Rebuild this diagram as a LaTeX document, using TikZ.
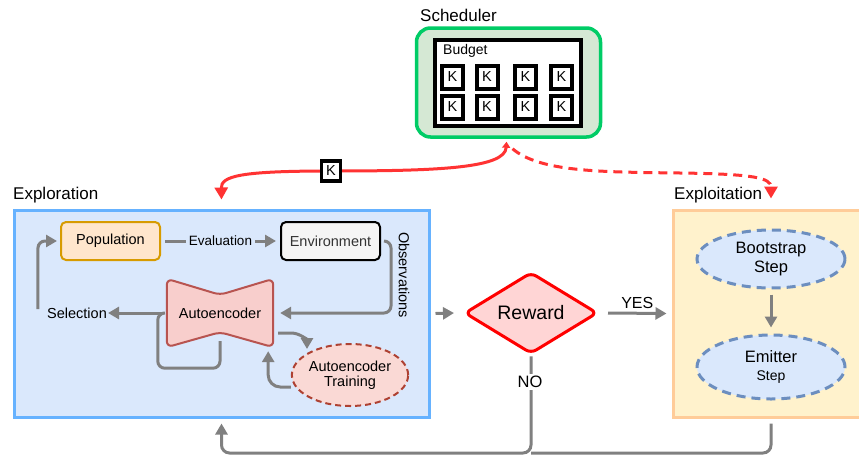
\documentclass[tikz,border=0pt]{standalone}
\usepackage{fontspec}
\setmainfont{Liberation Sans}
\usetikzlibrary{arrows.meta,shapes.geometric,calc}

\definecolor{explfill}{HTML}{DAE8FC}
\definecolor{explline}{HTML}{66B2FF}
\definecolor{exptfill}{HTML}{FFF2CC}
\definecolor{exptline}{HTML}{FFCC99}
\definecolor{schedfill}{HTML}{D5E8D4}
\definecolor{schedline}{HTML}{00CC66}
\definecolor{popfill}{HTML}{FFE6CC}
\definecolor{popline}{HTML}{D79B00}
\definecolor{envfill}{HTML}{F5F5F5}
\definecolor{envtext}{HTML}{333333}
\definecolor{aefill}{HTML}{F8CECC}
\definecolor{aeline}{HTML}{B85450}
\definecolor{trainfill}{HTML}{FAD9D5}
\definecolor{trainline}{HTML}{AE4132}
\definecolor{rewfill}{HTML}{FFD5D5}
\definecolor{rewline}{HTML}{FF0000}
\definecolor{stepline}{HTML}{6C8EBF}
\definecolor{flowgray}{HTML}{808080}
\definecolor{budgetred}{HTML}{FF3333}

\newcommand{\fs}[1]{\fontsize{#1}{#1}\selectfont}

\tikzset{
  panel/.style={draw, line width=3pt, inner sep=0pt},
  panellabel/.style={font=\fs{17}, anchor=west, inner sep=0pt},
  box/.style={draw, line width=2pt, rounded corners=5pt, minimum width=99pt,
    minimum height=38pt, inner sep=0pt, font=\fs{14.5}},
  stepnode/.style={ellipse, draw=stepline, fill=explfill, line width=3pt,
    dash pattern=on 9pt off 6pt, minimum width=148pt, minimum height=58pt,
    inner sep=0pt, align=center, font=\fs{16.5}},
  kbox/.style={draw, line width=4pt, fill=white, minimum width=21pt,
    minimum height=23pt, inner sep=0pt, font=\fs{14.5}},
  gline/.style={draw=flowgray, line width=3pt},
  garrow/.style={gline, -{Triangle[length=11pt,width=12pt]}},
  redline/.style={draw=budgetred, line width=3pt},
  flowtext/.style={font=\fs{13.5}, inner sep=1pt},
}

\begin{document}
\begin{tikzpicture}[x=1pt,y=-1pt]
\useasboundingbox (0,0) rectangle (859,458);

% ---------- panels ----------
\node[panel, draw=explline, fill=explfill, minimum width=415pt, minimum height=207pt]
  (expl) at (221.5,313.5) {};
\node[panel, draw=exptline, fill=exptfill, minimum width=196pt, minimum height=207pt]
  (expt) at (771,313.5) {};
\node[panellabel] (expllab) at (13,195) {Exploration};
\node[panellabel] (exptlab) at (674,195) {Exploitation};

% ---------- scheduler with its budget of K tokens ----------
\node[draw=schedline, fill=schedfill, line width=3.5pt, rounded corners=14pt,
  minimum width=184pt, minimum height=109pt, inner sep=0pt] (sched) at (508.5,82.5) {};
\node[panellabel] (schedlab) at (420,15) {Scheduler};
\node[draw, line width=4pt, fill=white, minimum width=146pt, minimum height=86pt,
  inner sep=0pt] (budget) at (508,83) {};
\node[anchor=west, inner sep=0pt, font=\fs{14}] (budgetlab) at (443,51) {Budget};
\foreach \r/\yy in {1/77,2/107}{
  \foreach \c/\xx in {1/452.5,2/487,3/525.5,4/561.5}{
    \node[kbox] (k\r\c) at (\xx,\yy) {K};
  }
}

% ---------- exploration loop ----------
\node[box, draw=popline, fill=popfill] (pop) at (110.5,241) {Population};
\node[box, draw=black, fill=envfill, text=envtext] (env) at (330.5,241) {Environment};

% autoencoder drawn as a bow-tie around its node
\node[minimum width=106pt, minimum height=68pt, inner sep=0pt] (ae) at (220,313) {};
\draw[draw=aeline, fill=aefill, line width=2pt, rounded corners=6pt]
  (ae.north west) -- ([yshift=-16pt]ae.north) -- (ae.north east)
  -- (ae.south east) -- ([yshift=15pt]ae.south) -- (ae.south west) -- cycle;
\node[font=\fs{14.5}] at (ae.center) {Autoencoder};

\node[ellipse, draw=trainline, fill=trainfill, line width=2pt,
  dash pattern=on 6pt off 4pt, minimum width=114pt, minimum height=62pt,
  inner sep=0pt, align=center, font=\fs{14.5}] (train) at (350,375)
  {Autoencoder\\[1pt]Training};

\node[font=\fs{14.5}, inner sep=1pt] (sel) at (77,313) {Selection};
\node[font=\fs{14.5}, rotate=-90, inner sep=0pt] (obs) at (404,275) {Observations};

\draw[garrow] ([xshift=4pt]pop.east) --
  node[flowtext, fill=explfill, inner xsep=3pt] (evallab) {Evaluation}
  ([xshift=-4pt]env.west);
\draw[garrow, rounded corners=7pt] ([xshift=3pt]env.east) -- ([xshift=10pt]env.east)
  |- ([xshift=7pt]ae.east);
\draw[garrow] ([xshift=-4pt]ae.west) -- (sel.east);
\draw[gline, rounded corners=7pt] ([yshift=6pt]ae.south) -- ([yshift=-21pt]ae.south)
  -| ([xshift=-9pt]ae.west) -- ([xshift=-4pt]ae.west);
\draw[garrow, rounded corners=7pt] ([xshift=-8pt,yshift=4pt]sel.west)
  |- ([xshift=-3pt]pop.west);
\draw[garrow] ([xshift=5pt,yshift=-20pt]ae.east) -- ([xshift=18pt,yshift=-20pt]ae.east)
  to[out=0,in=90] ([xshift=-43pt,yshift=-6pt]train.north);
\draw[garrow, rounded corners=12pt] ([yshift=-12pt]train.west)
  -| ([xshift=-5pt,yshift=-4pt]ae.south east);

% ---------- reward decision ----------
\node[diamond, draw=rewline, fill=rewfill, line width=3pt, rounded corners=6pt,
  minimum width=133pt, minimum height=71pt, inner sep=0pt, font=\fs{19.5}]
  (rew) at (531,313) {Reward};
\draw[garrow] ([xshift=5pt]expl.east) -- ([xshift=-9pt]rew.west);
\draw[garrow] ([xshift=9pt]rew.east) --
  node[above, font=\fs{16}, inner sep=3pt] (yes) {YES} ([xshift=-5pt]expt.west);

\coordinate (bus) at (531,453);
\draw[garrow, rounded corners=8pt] ([yshift=-1pt]rew.south) -- (bus)
  -| ([yshift=-5pt]expl.south);
\draw[gline, rounded corners=8pt] ([yshift=-5pt]expt.south) |- (bus);
\node[font=\fs{16.5}, fill=white, inner sep=2pt] (no) at (530,382) {NO};

% ---------- exploitation steps ----------
\node[stepnode] (boot) at (771,259) {Bootstrap\\[2pt]Step};
\node[stepnode, minimum height=64pt] (emit) at (771,367)
  {Emitter\\[1pt]{\fs{14}Step}};
\draw[garrow] ([yshift=-5pt]boot.south) -- ([yshift=6pt]emit.north);

% ---------- budget allocation ----------
\coordinate (kc) at (331,171);
\draw[redline, {Triangle[length=6pt,width=8pt]}-{Triangle[length=12pt,width=13pt]}]
  ([xshift=-2pt,yshift=-3pt]sched.south) .. controls (505,168) and (440,171) .. (kc)
  .. controls (240,171) and (221,176) .. ([yshift=9pt]expl.north);
\draw[redline, dash pattern=on 9pt off 6pt, -{Triangle[length=12pt,width=13pt]}]
  ([xshift=4pt,yshift=-10pt]sched.south) .. controls (540,172) and (600,172) .. (680,173)
  .. controls (755,174) and (771,178) .. ([yshift=10pt]expt.north);
\node[kbox, line width=3.5pt, minimum width=19pt, minimum height=20pt] (k) at (kc) {K};
\end{tikzpicture}
\end{document}
